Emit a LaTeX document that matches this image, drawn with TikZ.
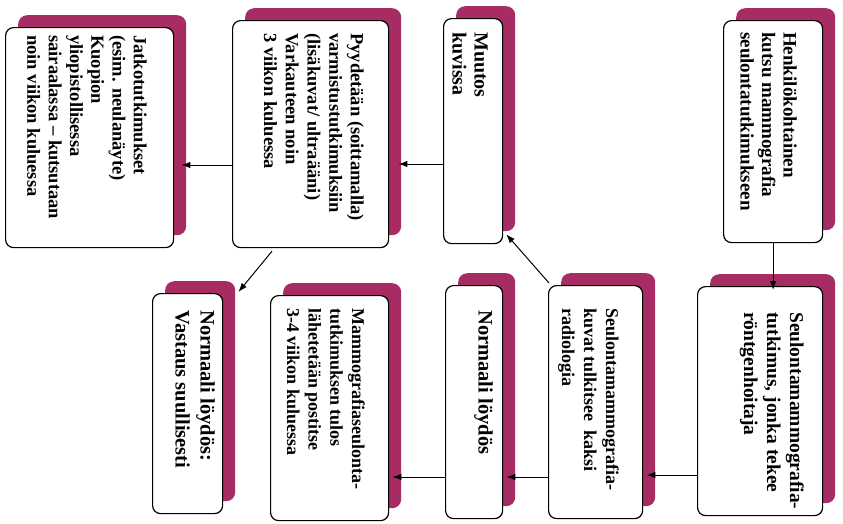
\documentclass[tikz,border=0pt]{standalone}
\usepackage{fontspec}
\setmainfont{Liberation Serif}
\usetikzlibrary{arrows.meta,calc}
\definecolor{shadowc}{RGB}{168,44,100}
\tikzset{
  shd/.style={fill=shadowc, rounded corners=9pt, inner sep=0pt, anchor=north west},
  wbox/.style={draw=black, fill=white, line width=1.2pt, rounded corners=8pt, inner sep=0pt, anchor=north west},
  txt/.style={rotate=-90, anchor=north west, inner sep=0pt, align=left},
  arr/.style={-{Latex[length=9pt,width=6.5pt]}, line width=1pt},
}
\newcommand\flowbox[5]{%
  \node[shd, minimum width={#4pt-#2pt}, minimum height={#5pt-#3pt}] (#1s) at (#2+13,#3-12) {};
  \node[wbox, minimum width={#4pt-#2pt}, minimum height={#5pt-#3pt}] (#1) at (#2,#3) {};
}
\newcommand\tf[2]{\fontsize{#1}{#2}\selectfont\bfseries}
\begin{document}
\begin{tikzpicture}[x=1pt,y=-1pt]
\useasboundingbox (0,0) rectangle (843,523);
% boxes
\flowbox{A}{723}{20}{822}{242}
\flowbox{M}{443}{18}{502}{243}
\flowbox{G}{232}{20}{388}{247}
\flowbox{H}{5}{27}{173}{247}
\flowbox{B}{697}{286}{822}{515}
\flowbox{C}{548}{285}{642}{518}
\flowbox{D}{445}{285}{502}{518}
\flowbox{E}{270}{295}{388}{520}
\flowbox{F}{152}{293}{222}{513}
% texts
\node[txt, font=\tf{19}{21.5}] (At) at (797,32) {Henkilökohtainen\\kutsu mammografia\\seulontatutkimukseen};
\node[txt, font=\tf{20}{22}] (Mt) at (488,32) {Muutos\\kuvissa};
\node[txt, font=\tf{18.5}{21.7}] (Gt) at (364,33) {Pyydetään (soittamalla)\\varmistustutkimuksiin\\(lisäkuvat/ ultraääni)\\Varkauteen noin\\3 viikon kuluessa};
\node[txt, font=\tf{18.5}{21.3}] (Ht) at (147,35) {Jatkotutkimukset\\(esim. neulanäyte)\\Kuopion\\yliopistollisessa\\sairaalassa – kutsutaan\\noin viikon kuluessa};
\node[txt, font=\tf{19.5}{23}] (Bt) at (804,312) {Seulontamammografia-\\tutkimus, jonka tekee\\röntgenhoitaja};
\node[txt, font=\tf{18}{22}] (Ct) at (619,308) {Seulontamammografia-\\kuvat tulkitsee\ \ kaksi\\radiologia};
\node[txt, font=\tf{20.5}{22}] (Dt) at (493,310) {Normaali löydös};
\node[txt, font=\tf{18}{21.7}] (Et) at (365,308) {Mammografiaseulonta-\\tutkimuksen tulos\\lähetetään postitse\\3-4 viikon kuluessa};
\node[txt, font=\tf{20.5}{25}] (Ft) at (215,310) {Normaali löydös:\\Vastaus suullisesti};
% connectors
\draw[arr, shorten >=-4pt] (A.south) -- (A.south |- B.north);
\draw[arr, shorten >=-9pt] (B.west |- 0,475) -- (Cs.east |- 0,475);
\draw[arr, shorten >=-9pt] (C.west |- 0,477) -- (Ds.east |- 0,477);
\draw[arr, shorten >=-9pt] (D.west |- 0,477) -- (Es.east |- 0,477);
\draw[arr, shorten >=-3pt] (M.west |- 0,164) -- (Gs.east |- 0,164);
\draw[arr, shorten >=-5pt] (G.west |- 0,165) -- (Hs.east |- 0,165);
\draw[arr] ($(C.north west)+(1,-2)$) -- ($(M.south east)+(3,-10)$);
\draw[arr] ($(G.south west)+(40,3)$) -- ($(Fs.north east)+(3,11)$);
\end{tikzpicture}
\end{document}
